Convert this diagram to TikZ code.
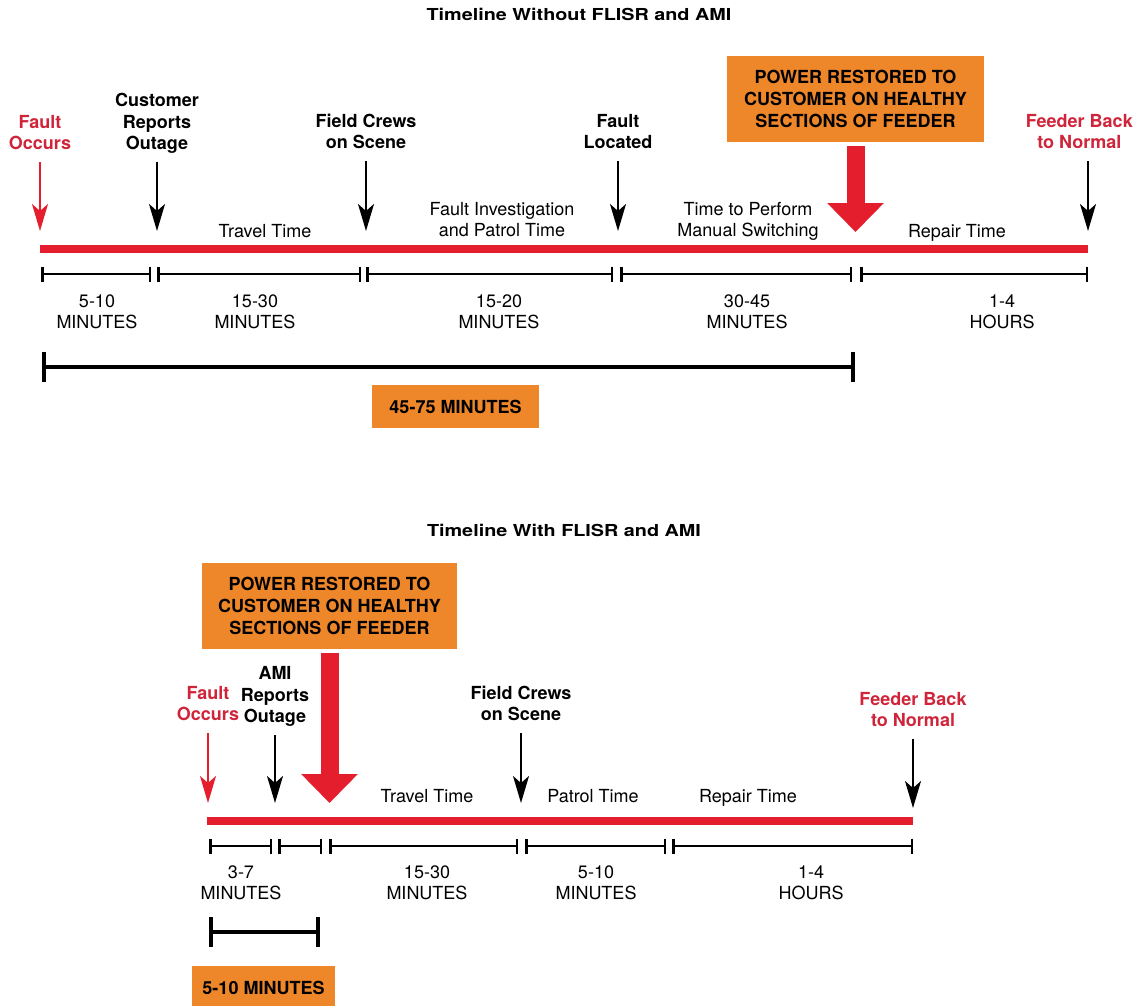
\documentclass[tikz,border=0pt]{standalone}
\usepackage{fontspec}
\setmainfont{TeX Gyre Heros}
\newfontfamily\titlefont[FakeStretch=1.2]{TeX Gyre Heros}
\usetikzlibrary{arrows.meta, positioning}
\usepackage{xcolor}

\definecolor{lineRed}{RGB}{228,30,44}
\definecolor{labelRed}{RGB}{208,36,58}
\definecolor{boxOrange}{RGB}{238,134,42}

\tikzset{
  title/.style={font=\titlefont\bfseries\fontsize{16.5}{19}\selectfont, inner sep=0pt, anchor=base},
  evlabel/.style={font=\fontsize{18}{21.5}\selectfont\bfseries, align=center,
                  inner sep=0pt, text depth=0pt, anchor=south},
  seglabel/.style={font=\fontsize{18}{21.5}\selectfont, align=center,
                   inner sep=0pt, text depth=0pt, anchor=south},
  evarrow/.style={line width=2pt, -{Stealth[length=27pt,width=16pt,inset=7pt]}, shorten <=12pt},
  timeline/.style={lineRed, line width=8.5pt},
  spanbar/.style={line width=2.5pt, {Bar[width=15pt]}-{Bar[width=15pt]}},
  bracket/.style={line width=4pt, {Bar[width=30pt]}-{Bar[width=30pt]}},
  orangebox/.style={fill=boxOrange, inner sep=0pt, align=center,
                    font=\fontsize{18}{22}\selectfont\bfseries},
  bigarrow/.style={lineRed, line width=18pt, -{Triangle[length=29pt,width=55pt]}, shorten <=4pt}
}

\begin{document}
\begin{tikzpicture}[x=1pt, y=-1pt]
  \useasboundingbox (0,0) rectangle (1135,1006);
  \clip (0,0) rectangle (1135,1006);

  % ---------- timeline without FLISR and AMI ----------
  \node[title] (title1) at (579,21) {Timeline Without FLISR and AMI};

  \draw[timeline] (40,249) coordinate (t0) -- (1088,249) coordinate (t1);
  \foreach \a/\b in {41/151, 157/361, 366/613, 620/852, 860/1088}
    \draw[spanbar] (\a,274) -- (\b,274);
  \foreach \x/\n/\u [count=\i] in {97/5-10/MINUTES, 255/15-30/MINUTES, 499/15-20/MINUTES,
                                   747/30-45/MINUTES, 1002/1-4/HOURS}
    \node[seglabel] (td\i) at (\x,329) {\n\\\u};

  \node[evlabel, labelRed] (t-fault) at (40,150) {Fault\\Occurs};
  \node[evlabel] (t-report) at (157,150) {Customer\\Reports\\Outage};
  \node[evlabel] (t-crew) at (366,149) {Field Crews\\on Scene};
  \node[evlabel] (t-located) at (618,149) {Fault\\Located};
  \node[evlabel, labelRed, anchor=south east] (t-normal) at (1133,149) {Feeder Back\\to Normal};
  \foreach \n/\x in {fault/40, report/157, crew/366, located/618, normal/1088}
    \coordinate (ta-\n) at (\x,231);
  \draw[evarrow, lineRed] (t-fault) -- (ta-fault);
  \foreach \n in {report, crew, located}
    \draw[evarrow] (t-\n) -- (ta-\n);
  \draw[evarrow] (t-normal.south -| ta-normal) -- (ta-normal);

  \node[seglabel] (s-travel1) at (265,238) {Travel Time};
  \node[seglabel] (s-patrol1) at (502,237) {Fault Investigation\\and Patrol Time};
  \node[seglabel] (s-switch1) at (748,237) {Time to Perform\\Manual Switching};
  \node[seglabel] (s-repair1) at (957,238) {Repair Time};

  \node[orangebox, minimum width=257pt, minimum height=86pt] (restore1) at (855.5,99)
    {POWER RESTORED TO\\CUSTOMER ON HEALTHY\\SECTIONS OF FEEDER};
  \coordinate (rtip1) at (855.5,232);
  \draw[bigarrow] (restore1) -- (rtip1);

  \draw[bracket] (42,367) coordinate (tb0) -- (855,367) coordinate (tb1);
  \node[orangebox, minimum width=167pt, minimum height=43pt] (total1) at (455.5,406.5)
    {45-75 MINUTES};

  % ---------- timeline with FLISR and AMI ----------
  \node[title] (title2) at (564,536) {Timeline With FLISR and AMI};

  \draw[timeline] (207,821) coordinate (b0) -- (913,821) coordinate (b1);
  \foreach \a/\b in {209/272, 278/322, 329/518, 525/666, 672/913}
    \draw[spanbar] (\a,846) -- (\b,846);
  \foreach \x/\n/\u [count=\i] in {241/3-7/MINUTES, 427/15-30/MINUTES, 596/5-10/MINUTES,
                                   811/1-4/HOURS}
    \node[seglabel] (bd\i) at (\x,900) {\n\\\u};

  \node[evlabel, labelRed] (b-fault) at (208,721) {Fault\\Occurs};
  \node[evlabel] (b-report) at (275,723) {AMI\\Reports\\Outage};
  \node[evlabel] (b-crew) at (521,721) {Field Crews\\on Scene};
  \node[evlabel, labelRed] (b-normal) at (913,727) {Feeder Back\\to Normal};
  \foreach \n/\x in {fault/208, report/275, crew/521}
    \coordinate (ba-\n) at (\x,803);
  \coordinate (ba-normal) at (913,808);
  \draw[evarrow, lineRed] (b-fault) -- (ba-fault);
  \foreach \n in {report, crew, normal}
    \draw[evarrow] (b-\n) -- (ba-\n);

  \node[seglabel] (s-travel2) at (427,803) {Travel Time};
  \node[seglabel] (s-patrol2) at (593,803) {Patrol Time};
  \node[seglabel] (s-repair2) at (748,803) {Repair Time};

  \node[orangebox, minimum width=255pt, minimum height=86pt] (restore2) at (329.5,606)
    {POWER RESTORED TO\\CUSTOMER ON HEALTHY\\SECTIONS OF FEEDER};
  \coordinate (rtip2) at (329.5,803);
  \draw[bigarrow] (restore2) -- (rtip2);

  \draw[bracket] (209,932) coordinate (bb0) -- (320,932) coordinate (bb1);
  \node[orangebox, minimum width=143pt, minimum height=43pt] (total2) at (263.5,987.5)
    {5-10 MINUTES};
\end{tikzpicture}
\end{document}
